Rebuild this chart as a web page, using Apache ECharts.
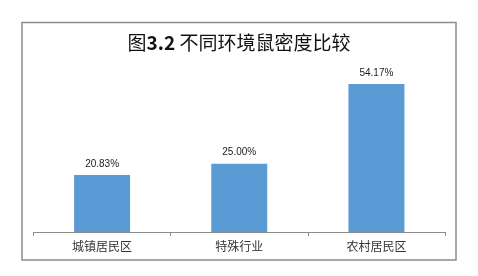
<!DOCTYPE html>
<html><head><meta charset="utf-8">
<script src="https://cdn.jsdelivr.net/npm/echarts@6/dist/echarts.min.js"></script>
<style>html,body{margin:0;padding:0;background:#fff}#c{width:478px;height:276px}</style>
</head><body><div id="c"></div>
<script>
const categories = ['城镇居民区', '特殊行业', '农村居民区'];
const values = [20.83, 25.00, 54.17];
const chart = echarts.init(document.getElementById('c'));
chart.setOption({
  animation: false,
  backgroundColor: '#fff',
  title: {
    text: '{a|图}{b|3.2}{a| 不同环境鼠密度比较}',
    left: 'center', top: 28,
    textStyle: {
      fontWeight: 'normal',
      rich: {
        a: {fontFamily: 'Noto Sans CJK SC', fontSize: 19, fontWeight: 'normal', color: '#111'},
        b: {fontFamily: 'Noto Sans CJK SC', fontSize: 19, fontWeight: 'bold', color: '#111'}
      }
    }
  },
  graphic: [{
    type: 'rect', shape: {x: 22, y: 22.5, width: 434, height: 237.5},
    style: {fill: 'none', stroke: '#8c8c8c', lineWidth: 1.5}, silent: true
  }],
  grid: {left: 33.5, right: 33, top: 68, bottom: 44},
  xAxis: {
    type: 'category', data: categories,
    axisLine: {lineStyle: {color: '#8c8c8c', width: 1}},
    axisTick: {show: true, length: 4, lineStyle: {color: '#8c8c8c'}},
    axisLabel: {color: '#333', fontSize: 12, fontFamily: 'Noto Sans CJK SC', margin: 8}
  },
  yAxis: {type: 'value', min: 0, max: 60, show: false, splitLine: {show: false}},
  series: [{
    type: 'bar', data: values, barWidth: 56,
    itemStyle: {color: '#5B9BD5'},
    label: {show: true, position: 'top', distance: 6, color: '#222', fontSize: 10, fontFamily: 'Liberation Sans',
      formatter: p => p.value.toFixed(2) + '%'}
  }]
});
</script></body></html>
